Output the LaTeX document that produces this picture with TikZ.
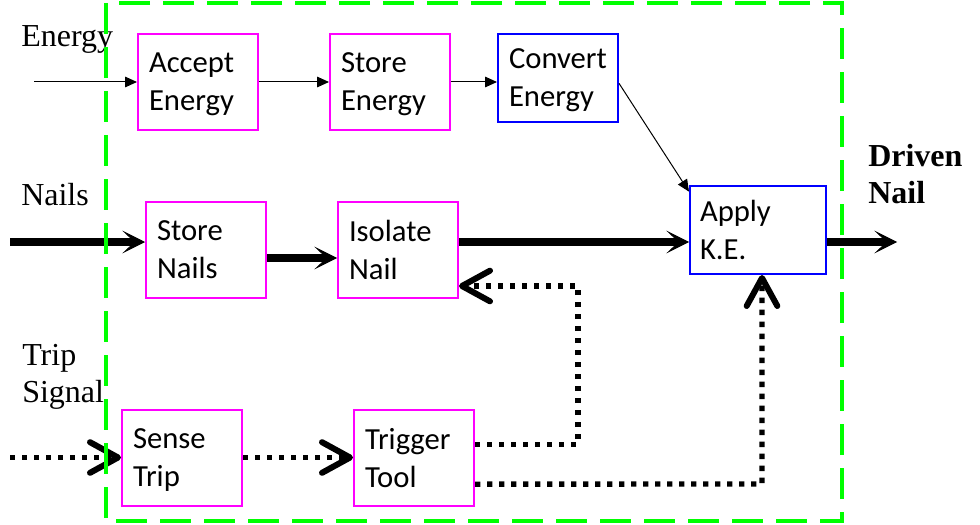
\documentclass[tikz,border=0pt]{standalone}
\usepackage{fontspec}
\setmainfont{Liberation Serif}
\newfontfamily\boxfont{Carlito}
\usetikzlibrary{arrows.meta}
\definecolor{boxpink}{RGB}{255,0,255}
\definecolor{boxblue}{RGB}{0,0,255}
\definecolor{limitgreen}{RGB}{0,255,0}
\begin{document}
\begin{tikzpicture}[x=0.75pt,y=-0.75pt,
  block/.style={draw=boxpink,line width=1.5pt,minimum width=90pt,minimum height=72pt,
    inner sep=2pt,text width=73.5pt,align=left,font=\boxfont\fontsize{23}{28.5}\selectfont,
    execute at end node={\endgraf\kern-\prevdepth}},
  subblock/.style={block,draw=boxblue,minimum height=66pt},
  flowlabel/.style={anchor=base west,inner sep=0pt,align=left,font=\fontsize{24}{27.75}\selectfont},
  energyflow/.style={line width=0.75pt,-{Triangle[length=9pt,width=8pt]}},
  nailflow/.style={line width=6pt,-{Stealth[length=17pt,width=17pt,inset=9pt,line width=0.5pt]}},
  tripflow/.style={line width=4pt,dash pattern=on 4pt off 5pt,
    -{Straight Barb[length=21pt,width=23pt,line width=4.5pt,round]}}]
  \useasboundingbox (0,0) rectangle (980,524);

  \node[block] (accept) at (198,82) {Accept\\Energy};
  \node[block] (storeE) at (390,82) {Store\\Energy};
  \node[subblock] (convert) at (558,78) {Convert\\Energy};
  \node[block] (storeN) at (206,250) {Store\\Nails};
  \node[block] (isolate) at (398,250) {Isolate\\Nail};
  \node[subblock,minimum width=102pt,text width=87pt] (apply) at (758,230) {Apply\\K.E.};
  \node[block] (sense) at (182,457.5) {Sense\\Trip};
  \node[block] (trigger) at (414,457.5) {Trigger\\Tool};

  \node[flowlabel] (energyin) at (21,47) {Energy};
  \node[flowlabel] (nailsin) at (21,205) {Nails};
  \node[flowlabel] (tripin) at (22,402) {Trip\\Signal};
  \node[flowlabel,font=\bfseries\fontsize{24}{27.75}\selectfont] (driven) at (868,203) {Driven\\Nail};

  % energy
  \coordinate (e0) at (34,82);
  \draw[energyflow] (e0) -- (accept.west);
  \draw[energyflow] (accept) -- (storeE);
  \draw[energyflow] (storeE.east) -- (storeE.east -| convert.west);
  \draw[energyflow] ([yshift=-4pt]convert.east) -- ([yshift=-5pt]apply.north west);

  % nails
  \coordinate (n0) at (10,242);
  \coordinate (n1) at (897,242);
  \draw[nailflow] (n0) -- (n0 -| storeN.west);
  \draw[nailflow] ([yshift=-6pt]storeN.east) -- ([yshift=-6pt]isolate.west);
  \draw[nailflow] ([yshift=6pt]isolate.east) -- ([yshift=6pt]isolate.east -| apply.west);
  \draw[nailflow] (n1 -| apply.east) -- (n1);

  % trip signal
  \coordinate (t0) at (10,457.5);
  \coordinate (t1) at (578,286);
  \coordinate (t2) at (762,484);
  \draw[tripflow] (t0) -- (sense);
  \draw[tripflow] (sense) -- (trigger);
  \draw[tripflow] ([yshift=10pt]trigger.east) -| (t1) -- (t1 -| isolate.east);
  \draw[tripflow] ([yshift=-20pt]trigger.east) -- (t2) -- (t2 |- apply.south);

  \draw[limitgreen,line width=3pt,dash pattern=on 23pt off 10pt] (106,3) rectangle (842,521);
\end{tikzpicture}
\end{document}
